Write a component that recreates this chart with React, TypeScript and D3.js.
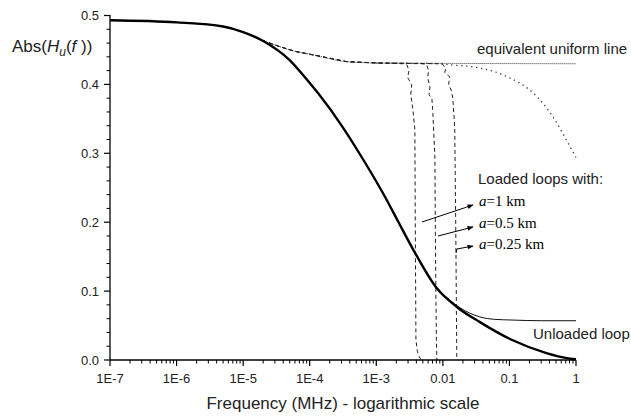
import React from "react";
import * as d3 from "d3";

// ---- data (frequency in MHz, value = |H_u(f)|) ----
const thickF = [1e-7, 1e-6, 5e-6, 1e-5, 2e-5, 4.9e-5, 1e-4, 1.34e-4, 3.18e-4, 6.35e-4, 1.35e-3, 2.13e-3, 3.55e-3, 8.13e-3, 1.62e-2, 3.6e-2, 0.11, 0.36, 0.7, 1];
const thickV = [0.493, 0.490, 0.484, 0.476, 0.463, 0.436, 0.402, 0.387, 0.337, 0.291, 0.237, 0.201, 0.161, 0.104, 0.077, 0.055, 0.029, 0.010, 0.003, 0.001];

const thinF = [1e-7, 1e-6, 5e-6, 1e-5, 2e-5, 4.9e-5, 1e-4, 1.34e-4, 3.18e-4, 6.35e-4, 1.35e-3, 2.13e-3, 3.55e-3, 8.13e-3, 1.2e-2, 1.8e-2, 3.6e-2, 0.06, 0.11, 0.3, 1];
const thinV = [0.493, 0.490, 0.484, 0.476, 0.463, 0.436, 0.402, 0.387, 0.337, 0.291, 0.237, 0.201, 0.161, 0.104, 0.089, 0.076, 0.0625, 0.059, 0.058, 0.057, 0.057];

const uniformF = [1e-7, 1e-6, 5e-6, 1e-5, 1.8e-5, 3.5e-5, 6e-5, 1.1e-4, 3.6e-4, 1.1e-3, 1];
const uniformV = [0.493, 0.490, 0.484, 0.476, 0.465, 0.455, 0.448, 0.443, 0.433, 0.431, 0.430];

const fallingF = [1e-3, 1e-2, 1.15e-2, 2.6e-2, 7.9e-2, 0.26, 0.45, 0.81, 1];
const fallingV = [0.431, 0.430, 0.429, 0.426, 0.414, 0.382, 0.353, 0.310, 0.294];

const upperF = [1e-5, 1.8e-5, 3.5e-5, 6e-5, 1.1e-4, 3.6e-4, 1.1e-3];
const upperV = [0.476, 0.465, 0.455, 0.448, 0.443, 0.433, 0.431];

const loop1F = [...upperF, 2.6e-3, 2.9e-3, 3.1e-3, 2.95e-3, 3.4e-3, 3.3e-3, 3.55e-3, 3.8e-3, 3.85e-3, 3.94e-3, 4.15e-3, 4.5e-3, 4.84e-3];
const loop1V = [...upperV, 0.430, 0.428, 0.420, 0.410, 0.400, 0.385, 0.363, 0.334, 0.200, 0.029, 0.012, 0.003, 0.0];

const loop2F = [...upperF, 5.0e-3, 5.75e-3, 6.1e-3, 5.9e-3, 6.4e-3, 6.2e-3, 6.84e-3, 7.08e-3, 7.59e-3, 7.7e-3, 7.85e-3, 8.0e-3, 8.13e-3];
const loop2V = [...upperV, 0.430, 0.428, 0.420, 0.410, 0.396, 0.385, 0.380, 0.358, 0.296, 0.200, 0.100, 0.030, 0.0];

const loop3F = [...upperF, 9e-3, 1.0e-2, 1.1e-2, 1.07e-2, 1.27e-2, 1.22e-2, 1.33e-2, 1.41e-2, 1.48e-2, 1.51e-2, 1.56e-2, 1.62e-2];
const loop3V = [...upperV, 0.430, 0.429, 0.423, 0.417, 0.411, 0.400, 0.392, 0.380, 0.350, 0.334, 0.200, 0.0];

const xTickValues = [1e-7, 1e-6, 1e-5, 1e-4, 1e-3, 1e-2, 1e-1, 1];
const xTickLabels = ["1E-7", "1E-6", "1E-5", "1E-4", "1E-3", "0.01", "0.1", "1"];
const yTickValues = [0, 0.1, 0.2, 0.3, 0.4, 0.5];
const yTickLabels = ["0.0", "0.1", "0.2", "0.3", "0.4", "0.5"];

const loopLabels = ["1 km", "0.5 km", "0.25 km"];

export default function App() {
  const W = 631, H = 416;
  const x = d3.scaleLog().domain([1e-7, 1]).range([110, 576]);
  const y = d3.scaleLinear().domain([0, 0.5]).range([360, 15.5]);
  const line = (fs: number[], vs: number[]) =>
    d3.line<number>().x((_, i) => x(fs[i])).y((_, i) => y(vs[i])).curve(d3.curveMonotoneX)(fs.map((_, i) => i)) || "";
  const lineLin = (fs: number[], vs: number[]) =>
    d3.line<number>().x((_, i) => x(fs[i])).y((_, i) => y(vs[i]))(fs.map((_, i) => i)) || "";

  const minorX: number[] = [];
  for (let e = -7; e < 0; e++) for (let m = 2; m <= 9; m++) minorX.push(m * Math.pow(10, e));
  const minorY: number[] = [];
  for (let k = 1; k < 25; k++) if (k % 5 !== 0) minorY.push(k * 0.02);

  const sans = "'Liberation Sans', Arial, sans-serif";
  const serif = "'Liberation Serif', 'Times New Roman', serif";
  const txt = "#222";

  return (
    <svg width={W} height={H} style={{ position: "absolute", left: 0, top: 0, background: "#fff" }}>
      <defs>
        <marker id="ah" viewBox="0 0 10 10" refX="9" refY="5" markerWidth="8" markerHeight="6" orient="auto" markerUnits="userSpaceOnUse">
          <path d="M0,1 L10,5 L0,9 Z" fill="#000" />
        </marker>
      </defs>
      {/* curves */}
      <path d={line(uniformF, uniformV)} fill="none" stroke="#333" strokeWidth={1} strokeDasharray="1 1" />
      <path d={line(fallingF, fallingV)} fill="none" stroke="#333" strokeWidth={1.3} strokeDasharray="1.3 3.7" />
      <path d={lineLin(loop1F, loop1V)} fill="none" stroke="#222" strokeWidth={1} strokeDasharray="4 3" />
      <path d={lineLin(loop2F, loop2V)} fill="none" stroke="#222" strokeWidth={1} strokeDasharray="4 3" />
      <path d={lineLin(loop3F, loop3V)} fill="none" stroke="#222" strokeWidth={1} strokeDasharray="4 3" />
      <path d={line(thinF, thinV)} fill="none" stroke="#111" strokeWidth={1} />
      <path d={line(thickF, thickV)} fill="none" stroke="#000" strokeWidth={2.4} />

      {/* axes */}
      <line x1={110} x2={576} y1={360} y2={360} stroke="#000" strokeWidth={1.3} />
      <line x1={110} x2={110} y1={360} y2={15} stroke="#000" strokeWidth={1.3} />
      {xTickValues.map((v, i) => (
        <g key={"xt" + i}>
          <line x1={x(v)} x2={x(v)} y1={360} y2={366} stroke="#000" strokeWidth={1.2} />
          <text x={x(v)} y={383} textAnchor="middle" fontFamily={sans} fontSize={13} fill={txt}>{xTickLabels[i]}</text>
        </g>
      ))}
      {minorX.map((v, i) => (
        <line key={"xm" + i} x1={x(v)} x2={x(v)} y1={360} y2={363.5} stroke="#000" strokeWidth={1} />
      ))}
      {yTickValues.map((v, i) => (
        <g key={"yt" + i}>
          <line x1={104} x2={110} y1={y(v)} y2={y(v)} stroke="#000" strokeWidth={1.2} />
          <text x={99} y={y(v)} dy="0.35em" textAnchor="end" fontFamily={sans} fontSize={13} fill={txt}>{yTickLabels[i]}</text>
        </g>
      ))}
      {minorY.map((v, i) => (
        <line key={"ym" + i} x1={106.5} x2={110} y1={y(v)} y2={y(v)} stroke="#000" strokeWidth={1} />
      ))}

      {/* axis titles */}
      <text x={12} y={52} fontFamily={sans} fontSize={17} fill={txt}>
        Abs(<tspan fontStyle="italic">H</tspan><tspan fontStyle="italic" fontSize={12} dy={4}>u</tspan><tspan dy={-4}>(</tspan><tspan fontStyle="italic">f </tspan>))
      </text>
      <text x={343} y={409} textAnchor="middle" fontFamily={sans} fontSize={17} fill={txt}>Frequency (MHz) - logarithmic scale</text>

      {/* annotations */}
      <text x={477} y={54} fontFamily={sans} fontSize={15} fill={txt}>equivalent uniform line</text>
      <text x={478} y={184} fontFamily={sans} fontSize={15} fill={txt}>Loaded loops with:</text>
      <text x={533} y={339} fontFamily={sans} fontSize={15} fill={txt}>Unloaded loop</text>
      {loopLabels.map((l, i) => (
        <text key={"ll" + i} x={479} y={[206, 228, 249][i]} fontFamily={serif} fontSize={15} fill="#000">
          <tspan fontStyle="italic">a</tspan>={l}
        </text>
      ))}
      <line x1={422} y1={222} x2={473} y2={205} stroke="#000" strokeWidth={1} markerEnd="url(#ah)" />
      <line x1={438} y1={236} x2={473} y2={227} stroke="#000" strokeWidth={1} markerEnd="url(#ah)" />
      <path d="M456,253 L457,249 L473,246" fill="none" stroke="#000" strokeWidth={1} markerEnd="url(#ah)" />
    </svg>
  );
}
